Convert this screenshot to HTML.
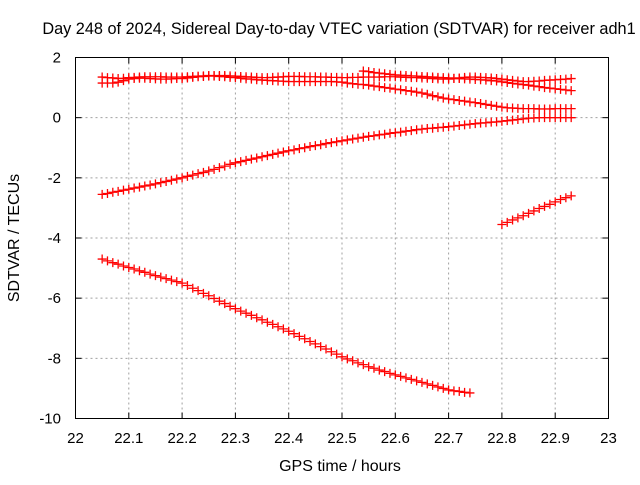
<!DOCTYPE html>
<html><head><meta charset="utf-8"><style>
body{margin:0;background:#fff}
svg text{font-family:"Liberation Sans",sans-serif;font-size:15px;fill:#000}
</style></head><body>
<svg id="chart" width="640" height="480" viewBox="0 0 640 480" xmlns="http://www.w3.org/2000/svg">
<rect width="640" height="480" fill="#fff"/>
<text x="339" y="34" text-anchor="middle" style="font-size:16.3px">Day 248 of 2024, Sidereal Day-to-day VTEC variation (SDTVAR) for receiver adh1</text>
<g id="grid"></g>
<g id="ticks"></g>
<g id="marks"></g>
<rect x="75.5" y="57.5" width="533" height="361" fill="none" stroke="#000" stroke-width="1"/>
<text x="340" y="471" text-anchor="middle" style="font-size:16px">GPS time / hours</text>
<text x="0" y="0" text-anchor="middle" transform="translate(19,238) rotate(-90)" style="font-size:16px">SDTVAR / TECUs</text>
</svg>
<script>
const xTicks=[22,22.1,22.2,22.3,22.4,22.5,22.6,22.7,22.8,22.9,23];
const xTickLabels=["22","22.1","22.2","22.3","22.4","22.5","22.6","22.7","22.8","22.9","23"];
const yTicks=[2,0,-2,-4,-6,-8,-10];
const yTickLabels=["2","0","-2","-4","-6","-8","-10"];
const timeStep=0.01;
const seriesStarts=[22.05,22.05,22.8,22.05,22.05,22.54];
const seriesA=[-4.70,-4.76,-4.82,-4.87,-4.93,-4.98,-5.03,-5.09,-5.14,-5.20,-5.25,-5.30,-5.35,-5.40,-5.45,-5.50,-5.58,-5.67,-5.75,-5.84,-5.92,-6.01,-6.10,-6.18,-6.27,-6.35,-6.43,-6.50,-6.57,-6.65,-6.72,-6.80,-6.87,-6.95,-7.02,-7.10,-7.18,-7.27,-7.35,-7.44,-7.52,-7.61,-7.69,-7.78,-7.86,-7.95,-8.02,-8.08,-8.15,-8.21,-8.28,-8.33,-8.39,-8.44,-8.50,-8.55,-8.60,-8.65,-8.70,-8.75,-8.80,-8.85,-8.90,-8.95,-9.00,-9.05,-9.08,-9.10,-9.13,-9.15];
const seriesB=[-2.55,-2.52,-2.48,-2.45,-2.41,-2.38,-2.34,-2.31,-2.27,-2.24,-2.20,-2.16,-2.12,-2.08,-2.04,-2.00,-1.95,-1.91,-1.86,-1.82,-1.77,-1.72,-1.66,-1.61,-1.55,-1.50,-1.46,-1.42,-1.38,-1.34,-1.30,-1.26,-1.22,-1.18,-1.14,-1.10,-1.07,-1.03,-1.00,-0.96,-0.93,-0.90,-0.86,-0.83,-0.80,-0.77,-0.74,-0.71,-0.68,-0.65,-0.62,-0.60,-0.57,-0.55,-0.52,-0.50,-0.48,-0.45,-0.43,-0.40,-0.38,-0.36,-0.35,-0.33,-0.32,-0.30,-0.28,-0.26,-0.24,-0.22,-0.20,-0.18,-0.17,-0.15,-0.14,-0.12,-0.10,-0.08,-0.06,-0.04,-0.02,-0.01,0,0,0,0,0,0,0];
const seriesC=[-3.55,-3.48,-3.40,-3.33,-3.26,-3.18,-3.10,-3.02,-2.95,-2.88,-2.80,-2.72,-2.66,-2.60];
const seriesD=[1.35,1.33,1.32,1.30,1.31,1.33,1.34,1.35,1.36,1.36,1.36,1.36,1.35,1.35,1.35,1.35,1.36,1.37,1.38,1.39,1.40,1.40,1.40,1.40,1.39,1.38,1.37,1.36,1.35,1.34,1.33,1.33,1.34,1.35,1.36,1.37,1.37,1.37,1.36,1.36,1.36,1.35,1.35,1.34,1.34,1.33,1.33,1.34,1.34,1.35,1.35,1.35,1.35,1.36,1.36,1.36,1.35,1.34,1.33,1.33,1.32,1.31,1.30,1.29,1.28,1.28,1.30,1.32,1.34,1.35,1.35,1.34,1.33,1.32,1.30,1.28,1.26,1.24,1.22,1.20,1.20,1.21,1.22,1.24,1.25,1.26,1.27,1.28,1.30];
const seriesE=[1.15,1.15,1.15,1.18,1.23,1.28,1.30,1.31,1.31,1.30,1.29,1.28,1.28,1.29,1.30,1.30,1.32,1.34,1.36,1.37,1.38,1.38,1.37,1.36,1.34,1.33,1.31,1.29,1.28,1.26,1.25,1.24,1.23,1.22,1.21,1.20,1.20,1.20,1.20,1.20,1.20,1.20,1.20,1.20,1.19,1.18,1.15,1.13,1.11,1.10,1.08,1.05,1.03,1.00,0.98,0.95,0.93,0.90,0.88,0.85,0.82,0.78,0.73,0.69,0.65,0.62,0.60,0.57,0.55,0.52,0.50,0.47,0.44,0.41,0.38,0.35,0.33,0.32,0.31,0.30,0.30,0.30,0.29,0.29,0.29,0.30,0.30,0.30,0.30];
const seriesF=[1.55,1.53,1.50,1.48,1.46,1.44,1.42,1.41,1.40,1.39,1.38,1.37,1.36,1.35,1.34,1.33,1.32,1.31,1.30,1.29,1.28,1.27,1.26,1.25,1.23,1.22,1.19,1.17,1.14,1.12,1.10,1.08,1.05,1.03,1.00,0.98,0.96,0.94,0.92,0.90];
const allSeries=[seriesA,seriesB,seriesC,seriesD,seriesE,seriesF];
const seriesNames=["series-a","series-b","series-c","series-d","series-e","series-f"];
const NS="http://www.w3.org/2000/svg";
const X0=75.5,X1=608.5,Y0=418.5,Y1=57.5;
function xs(v){return X0+(v-22)/(23-22)*(X1-X0);}
function ys(v){return Y0+(v-(-10))/(2-(-10))*(Y1-Y0);}
const grid=document.getElementById('grid'),ticks=document.getElementById('ticks'),marks=document.getElementById('marks');
function mk(tag,attrs,parent){const e=document.createElementNS(NS,tag);for(const k in attrs)e.setAttribute(k,attrs[k]);parent.appendChild(e);return e;}
xTicks.forEach((t,i)=>{
  const x=xs(t);
  if(i>0&&i<xTicks.length-1){const g=mk('line',{x1:x,x2:x,y1:Y1,y2:Y0,stroke:'#a0a0a0','stroke-dasharray':'2,3'},grid);
  
  }
  const tl=mk('line',{x1:x,x2:x,y1:Y0,y2:Y0-6,stroke:'#000'},ticks);
  
  
  mk('line',{x1:x,x2:x,y1:Y1,y2:Y1+6,stroke:'#000'},ticks);
  const tx=mk('text',{x:x,y:443,'text-anchor':'middle'},ticks);tx.textContent=xTickLabels[i];
  
  
});
yTicks.forEach((t,i)=>{
  const y=ys(t);
  if(i>0&&i<yTicks.length-1){const g=mk('line',{x1:X0,x2:X1,y1:y,y2:y,stroke:'#a0a0a0','stroke-dasharray':'2,3'},grid);
  
  }
  const tl=mk('line',{x1:X0,x2:X0+6,y1:y,y2:y,stroke:'#000'},ticks);
  
  
  mk('line',{x1:X1,x2:X1-6,y1:y,y2:y,stroke:'#000'},ticks);
  const tx=mk('text',{x:61,y:y+5,'text-anchor':'end'},ticks);tx.textContent=yTickLabels[i];
  
  
});
allSeries.forEach((s,si)=>{
  const g=mk('g',{},marks);
  
  
  let d='';
  s.forEach((v,i)=>{const x=xs(seriesStarts[si]+i*timeStep),y=ys(v);d+=`M${x-4.5},${y}h9M${x},${y-4.5}v9`;});
  mk('path',{d:d,stroke:'#ff0000','stroke-width':1.3,fill:'none'},g);
});
</script>
</body></html>
